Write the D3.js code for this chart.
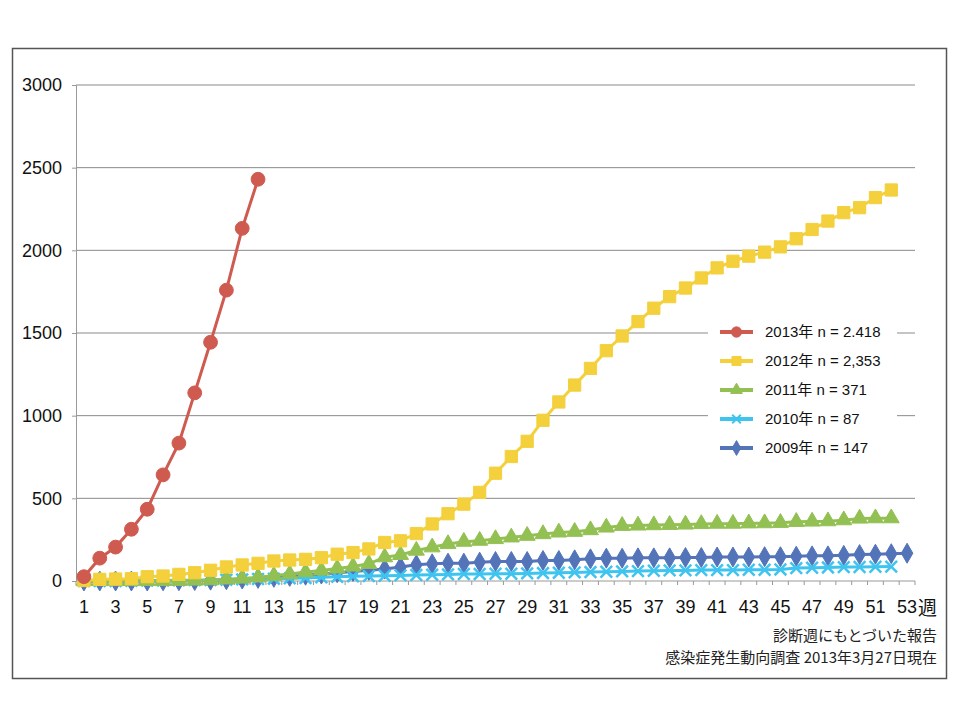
<!DOCTYPE html>
<html>
<head>
<meta charset="utf-8">
<script src="https://cdn.jsdelivr.net/npm/d3@7"></script>
<style>
  body { margin: 0; background: #fff; }
  svg { font-family: "Liberation Sans", Arial, "Noto Sans CJK JP", sans-serif; }
</style>
</head>
<body>
<svg id="chart" width="960" height="720"></svg>
<script>
// cumulative reports by diagnosis week
const weeks = d3.range(1, 54);
const yTicks = [0, 500, 1000, 1500, 2000, 2500, 3000];

const y2013 = [26, 138, 205, 313, 434, 642, 834, 1138, 1444, 1759, 2133, 2430];
const y2012 = [3, 10, 12, 14, 26, 30, 40, 50, 65, 85, 97, 107, 121, 127, 131, 141, 162, 172, 194, 233,
  243, 287, 345, 407, 465, 536, 652, 753, 845, 972, 1083, 1185, 1286, 1393, 1482, 1569, 1650, 1720,
  1772, 1833, 1894, 1934, 1965, 1989, 2021, 2070, 2126, 2177, 2228, 2258, 2319, 2365];
const y2011 = [0, 0, 0, 0, 0, 0, 1, 3, 5, 10, 15, 22, 32, 42, 54, 64, 76, 88, 104, 144, 158, 184, 204,
  224, 238, 244, 254, 264, 274, 284, 294, 298, 308, 324, 334, 336, 338, 340, 342, 345, 347, 347, 349,
  350, 352, 358, 360, 362, 368, 378, 380, 380];
const y2010 = [0, 0, 0, 1, 2, 3, 4, 5, 6, 8, 10, 12, 14, 16, 18, 22, 25, 28, 30, 32, 34, 36, 38, 40, 42,
  42, 44, 44, 46, 48, 50, 52, 54, 56, 58, 60, 62, 64, 64, 66, 66, 66, 68, 68, 70, 78, 80, 82, 84, 85, 86, 87];
const y2009 = [0, 0, 0, 0, 0, 1, 2, 3, 5, 8, 12, 16, 22, 28, 35, 42, 50, 58, 65, 72, 84, 98, 104, 108,
  108, 114, 118, 118, 118, 124, 124, 128, 134, 138, 138, 140, 140, 140, 142, 142, 145, 145, 145, 147,
  147, 150, 152, 152, 155, 160, 162, 165, 168];

const seriesLabels = ["2013年 n = 2.418", "2012年 n = 2,353", "2011年 n = 371", "2010年 n = 87", "2009年 n = 147"];

const series = [
  { name: seriesLabels[0], values: y2013, color: "#cf5a4f", symbol: d3.symbolCircle, size: 150 },
  { name: seriesLabels[1], values: y2012, color: "#f3d03c", symbol: d3.symbolSquare, size: 150 },
  { name: seriesLabels[2], values: y2011, color: "#93c052", symbol: d3.symbolTriangle, size: 110 },
  { name: seriesLabels[3], values: y2010, color: "#3fc4ef", symbol: d3.symbolX, size: 90 },
  { name: seriesLabels[4], values: y2009, color: "#5474b9", symbol: d3.symbolDiamond, size: 115 }
];

const svg = d3.select("#chart");
const margin = { top: 85, right: 45, bottom: 139, left: 76 };
const width = 960 - margin.left - margin.right;
const height = 720 - margin.top - margin.bottom;

// outer frame
svg.append("rect")
  .attr("x", 12.5).attr("y", 48.5)
  .attr("width", 934).attr("height", 630)
  .attr("fill", "none").attr("stroke", "#555").attr("stroke-width", 1.5);

const g = svg.append("g").attr("transform", `translate(${margin.left},${margin.top})`);

const x = d3.scaleBand().domain(weeks).range([0, width]).padding(0);
const y = d3.scaleLinear().domain([0, 3000]).range([height, 0]);
const cx = w => x(w) + x.bandwidth() / 2;

// gridlines
g.append("g")
  .selectAll("line")
  .data(yTicks.slice(1))
  .join("line")
  .attr("x1", 0).attr("x2", width)
  .attr("y1", d => y(d)).attr("y2", d => y(d))
  .attr("stroke", "#8a8a8a").attr("stroke-width", 1);

// y axis
const gY = g.append("g")
  .call(d3.axisLeft(y).tickValues(yTicks).tickSize(4).tickPadding(10).tickFormat(d3.format("d")));
gY.select(".domain").attr("stroke", "#999");
gY.selectAll(".tick line").attr("stroke", "#999");
gY.selectAll("text").attr("font-size", 18).attr("fill", "#111")
  .attr("font-family", "\"Liberation Sans\", Arial, sans-serif");

// x axis: line, boundary ticks, odd-week labels
g.append("line")
  .attr("x1", 0).attr("x2", width)
  .attr("y1", height).attr("y2", height)
  .attr("stroke", "#999");
g.append("g")
  .selectAll("line")
  .data(weeks.concat([54]))
  .join("line")
  .attr("x1", d => d === 54 ? width : x(d))
  .attr("x2", d => d === 54 ? width : x(d))
  .attr("y1", height).attr("y2", height + 4)
  .attr("stroke", "#999");

const gX = g.append("g")
  .attr("transform", `translate(0,${height})`)
  .call(d3.axisBottom(x).tickValues(weeks.filter(w => w % 2 === 1)).tickSize(0).tickPadding(19));
gX.select(".domain").remove();
gX.selectAll("text").attr("font-size", 18).attr("fill", "#111")
  .attr("font-family", "\"Liberation Sans\", Arial, sans-serif");

g.append("text")
  .attr("x", cx(53) + 11).attr("y", height + 34)
  .attr("font-size", 19).attr("fill", "#111")
  .attr("font-family", "\"Noto Sans CJK JP\", sans-serif")
  .text("週");

// series, oldest first so 2013 sits on top
const line = d3.line()
  .x((d, i) => cx(weeks[i]))
  .y(d => y(d));

const drawOrder = series.slice().reverse();
drawOrder.forEach(s => {
  const sg = g.append("g");
  sg.append("path")
    .datum(s.values)
    .attr("fill", "none")
    .attr("stroke", s.color)
    .attr("stroke-width", 3)
    .attr("d", line);
  sg.selectAll("path.mark")
    .data(s.values)
    .join("path")
    .attr("class", "mark")
    .attr("transform", (d, i) => `translate(${cx(weeks[i])},${y(d)})`)
    .attr("d", d3.symbol(s.symbol, s.size))
    .attr("fill", s.symbol === d3.symbolX ? "none" : s.color)
    .attr("stroke", s.color)
    .attr("stroke-width", s.symbol === d3.symbolX ? 2.5 : 1);
});

// legend
const legend = g.append("g").attr("transform", `translate(${708 - margin.left},${315 - margin.top})`);
legend.append("rect")
  .attr("width", 189).attr("height", 150)
  .attr("fill", "#fff");
series.forEach((s, i) => {
  const row = legend.append("g").attr("transform", `translate(0,${17 + i * 29})`);
  row.append("line")
    .attr("x1", 12).attr("x2", 45)
    .attr("stroke", s.color).attr("stroke-width", 4);
  row.append("path")
    .attr("transform", "translate(28.5,0)")
    .attr("d", d3.symbol(s.symbol, s.size * 0.55))
    .attr("fill", s.symbol === d3.symbolX ? "none" : s.color)
    .attr("stroke", s.color)
    .attr("stroke-width", s.symbol === d3.symbolX ? 2 : 1);
  row.append("text")
    .attr("x", 57).attr("dy", "0.35em")
    .attr("font-size", 15).attr("fill", "#111")
    .text(s.name);
});

// source notes
const notes = ["診断週にもとづいた報告", "感染症発生動向調査 2013年3月27日現在"];
svg.append("g")
  .selectAll("text")
  .data(notes)
  .join("text")
  .attr("x", 937)
  .attr("y", (d, i) => 641 + i * 22)
  .attr("text-anchor", "end")
  .attr("font-size", 15)
  .attr("fill", "#222")
  .attr("font-family", "\"Noto Sans CJK JP\", sans-serif")
  .text(d => d);
</script>
</body>
</html>
